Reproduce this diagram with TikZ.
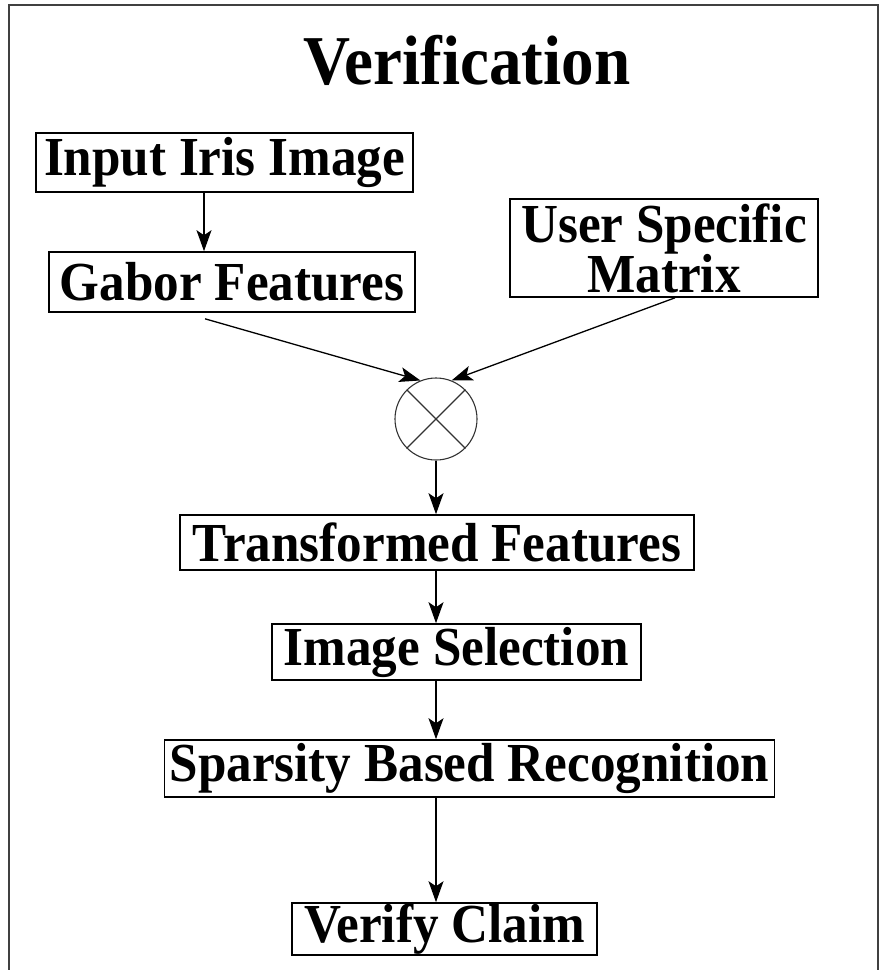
\documentclass[tikz,border=0pt]{standalone}
\usepackage{fontspec}
\setmainfont[FakeStretch=0.93]{Liberation Serif}
\usepackage{tikz}
\usetikzlibrary{arrows.meta,positioning,calc}

\begin{document}
\begin{tikzpicture}[x=1pt, y=-1pt,
    box/.style={rectangle, draw, line width=1.6pt, inner xsep=5pt, inner ysep=0pt, align=center,
        font=\fontsize{55}{50}\selectfont\bfseries},
    link/.style={-{Stealth[length=21pt, width=15pt, inset=5pt]}, line width=1.3pt}]

    \useasboundingbox (0,0) rectangle (883,970);

    % Frame (open at the bottom)
    \draw[line width=1.4pt, black!75] (9,970) -- (9,5) -- (878,5) -- (878,970);

    % Title
    \node[font=\fontsize{70}{74}\selectfont\bfseries] (title) at (467,60) {Verification};

    % Input
    \node[box, minimum width=377pt, minimum height=59pt] (iris) at (224.5,162.5) {Input Iris Image};

    % Gabor
    \node[box, minimum width=366pt, minimum height=60pt] (gabor) at (232,282) {Gabor Features};

    % User matrix
    \node[box, minimum width=308pt, minimum height=98pt] (usermat) at (664,248) {User Specific\\Matrix};

    % Multiplier
    \node[circle, draw, line width=1.1pt, black!80, minimum size=82pt, inner sep=0pt] (mult) at (436,419) {};
    \draw[line width=1.1pt, black!80] (mult.45) -- (mult.225) (mult.135) -- (mult.315);

    % Chain below
    \node[box, minimum width=514pt, minimum height=55pt] (trans) at (437,542.5) {Transformed Features};
    \node[box, minimum width=369pt, minimum height=56pt] (select) at (456.5,652) {Image Selection};
    \node[box, minimum width=575pt, minimum height=57pt] (sparse) at (469.5,768.5) {Sparsity Based Recognition};
    \node[box, minimum width=305pt, minimum height=52pt] (verify) at (444.5,929) {Verify Claim};

    % Arrows
    \draw[link] ([xshift=-20.5pt]iris.south) -- ([xshift=-28pt]gabor.north);
    \draw[link] ([xshift=-27pt, yshift=-6pt]gabor.south) -- (mult.112);
    \draw[link] ([xshift=11pt]usermat.south) -- (mult.68);
    \draw[link] (mult.south) -- (mult.south |- trans.north);
    \draw[link] (trans.south -| mult) -- (select.north -| mult);
    \draw[link] (select.south -| mult) -- (sparse.north -| mult);
    \draw[link] (sparse.south -| mult) -- (verify.north -| mult);
\end{tikzpicture}
\end{document}
